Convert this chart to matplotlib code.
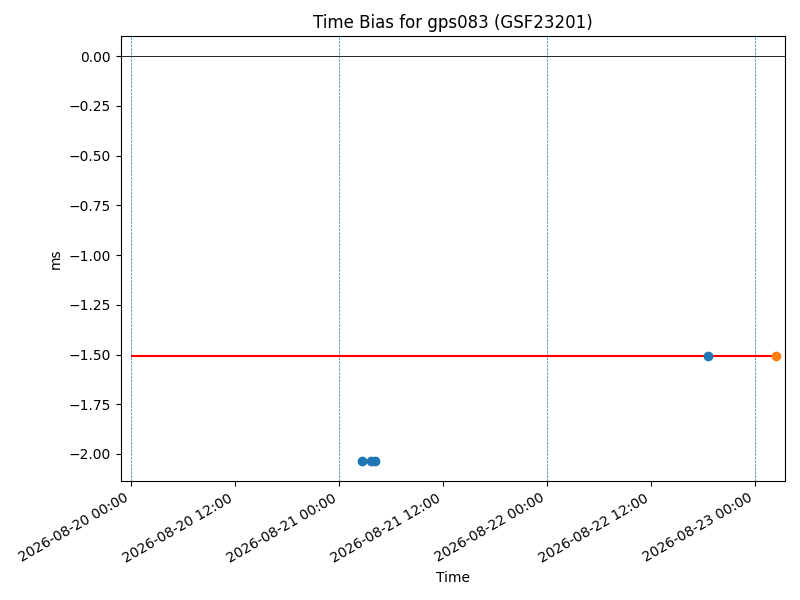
import matplotlib
matplotlib.use("Agg")
import matplotlib.pyplot as plt
import matplotlib.dates as mdates
import pandas as pd

blue_times = ["2026-08-21 02:40", "2026-08-21 03:42", "2026-08-21 04:09", "2026-08-22 18:35"]
blue_values = [-2.035, -2.035, -2.035, -1.508]
orange_times = ["2026-08-23 02:25"]
orange_values = [-1.508]
ref_value = -1.508
ref_start = "2026-08-20 00:00"
day_lines = ["2026-08-20", "2026-08-21", "2026-08-22", "2026-08-23"]

bt = pd.to_datetime(blue_times)
ot = pd.to_datetime(orange_times)

fig, ax = plt.subplots(figsize=(8, 6), dpi=100)
ax.axhline(0, color="black", lw=0.6)
for d in day_lines:
    ax.axvline(pd.Timestamp(d), color="C0", ls="--", lw=0.5)
ax.hlines(ref_value, pd.Timestamp(ref_start), ot[0], color="red", lw=1.5, zorder=2)
ax.scatter(bt, blue_values, color="C0", zorder=3)
ax.scatter(ot, orange_values, color="C1", zorder=3)

ax.set_xlim(pd.Timestamp("2026-08-19 22:51"), pd.Timestamp("2026-08-23 03:28"))
ax.set_ylim(-2.137, 0.102)
ax.xaxis.set_major_locator(mdates.HourLocator(byhour=[0, 12]))
ax.xaxis.set_major_formatter(mdates.DateFormatter("%Y-%m-%d %H:%M"))
ax.set_title("Time Bias for gps083 (GSF23201)")
ax.set_xlabel("Time")
ax.set_ylabel("ms")
fig.autofmt_xdate()
fig.subplots_adjust(left=0.151, right=0.981, top=0.94, bottom=0.198)
fig.savefig("out.png", dpi=100)
